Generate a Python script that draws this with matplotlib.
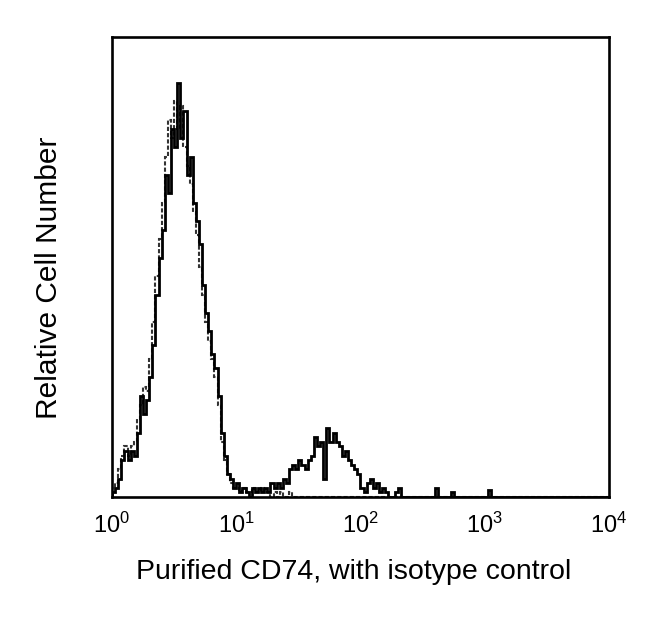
import numpy as np
import matplotlib
matplotlib.use("Agg")
import matplotlib.pyplot as plt

plt.rcParams['font.family'] = ['Liberation Sans', 'DejaVu Sans']
plt.rcParams['mathtext.fontset'] = 'custom'
plt.rcParams['mathtext.rm'] = 'Liberation Sans'
plt.rcParams['mathtext.it'] = 'Liberation Sans'
plt.rcParams['mathtext.default'] = 'regular'

# log10 fluorescence channels, 0.025 decades wide, starting at 10^0
bin_width_decades = 0.025

cd74_counts = [
    1, 2, 4, 8, 10, 8, 10, 9, 14, 22,
    18, 21, 26, 33, 44, 52, 58, 70, 66, 80,
    76, 90, 78, 84, 70, 74, 64, 60, 55, 46,
    40, 36, 31, 28, 22, 14, 9, 5, 4, 2,
    3, 1, 2, 1, 0, 2, 1, 2, 1, 2,
    1, 3, 2, 3, 2, 4, 3, 6, 7, 6,
    8, 7, 6, 8, 9, 13, 11, 12, 4, 15,
    12, 14, 12, 11, 9, 10, 8, 7, 6, 5,
    2, 1, 3, 4, 2, 3, 1, 2, 1, 0,
    0, 1, 2, 0, 0, 0, 0, 0, 0, 0,
    0, 0, 0, 0, 2, 0, 0, 0, 0, 1,
    0, 0, 0, 0, 0, 0, 0, 0, 0, 0,
    0, 1.5, 0, 0, 0, 0, 0, 0, 0, 0,
    0, 0, 0, 0, 0, 0, 0, 0, 0, 0,
    0, 0, 0, 0, 0, 0, 0, 0, 0, 0,
    0, 0, 0, 0, 0, 0, 0, 0, 0, 0,
]

isotype_counts = [
    2, 3, 6, 9, 11, 9, 11, 12, 17, 20,
    24, 23, 30, 38, 48, 56, 64, 74, 82, 78,
    86, 80, 85, 76, 72, 68, 62, 57, 50, 44,
    38, 34, 30, 26, 20, 12, 8, 5, 3, 2,
    2, 1, 2, 1, 1, 2, 1, 1, 2, 1,
    1, 0, 1, 0, 1, 0, 0, 1, 0, 0,
    0, 0, 0, 0, 0, 0, 0, 0, 0, 0,
    0, 0, 0, 0, 0, 0, 0, 0, 0, 0,
    0, 0, 0, 0, 0, 0, 0, 0, 0, 0,
    0, 0, 0, 0, 0, 0, 0, 0, 0, 0,
    0, 0, 0, 0, 0, 0, 0, 0, 0, 0,
    0, 0, 0, 0, 0, 0, 0, 0, 0, 0,
    0, 0, 0, 0, 0, 0, 0, 0, 0, 0,
    0, 0, 0, 0, 0, 0, 0, 0, 0, 0,
    0, 0, 0, 0, 0, 0, 0, 0, 0, 0,
    0, 0, 0, 0, 0, 0, 0, 0, 0, 0,
]

x_ticks = [1, 10, 100, 1000, 10000]
x_label = "Purified CD74, with isotype control"
y_label = "Relative Cell Number"

n = len(cd74_counts)
edges = 10 ** (np.arange(n + 1) * bin_width_decades)

fig = plt.figure(figsize=(6.5, 6.22), dpi=100)
ax = fig.add_axes([0.1723, 0.201, 0.7646, 0.7395])

ax.stairs(isotype_counts, edges, color='#333333', linewidth=1.5, linestyle=(0, (2, 1)))
ax.stairs(cd74_counts, edges, color='black', linewidth=2.0)

ax.set_xscale('log')
ax.set_xlim(1, 10000)
ax.set_ylim(0, 100)
ax.set_xticks(x_ticks)
ax.set_yticks([])
ax.tick_params(axis='x', which='both', length=0, pad=11, labelsize=17)
ax.xaxis.set_minor_locator(matplotlib.ticker.NullLocator())
for s in ax.spines.values():
    s.set_linewidth(1.9)

ax.set_xlabel(x_label, fontsize=20.5)
ax.set_ylabel(y_label, fontsize=21.5)
ax.xaxis.set_label_coords(0.486, -0.134)
ax.yaxis.set_label_coords(-0.099, 0.476)

fig.savefig("out.png", dpi=100)
